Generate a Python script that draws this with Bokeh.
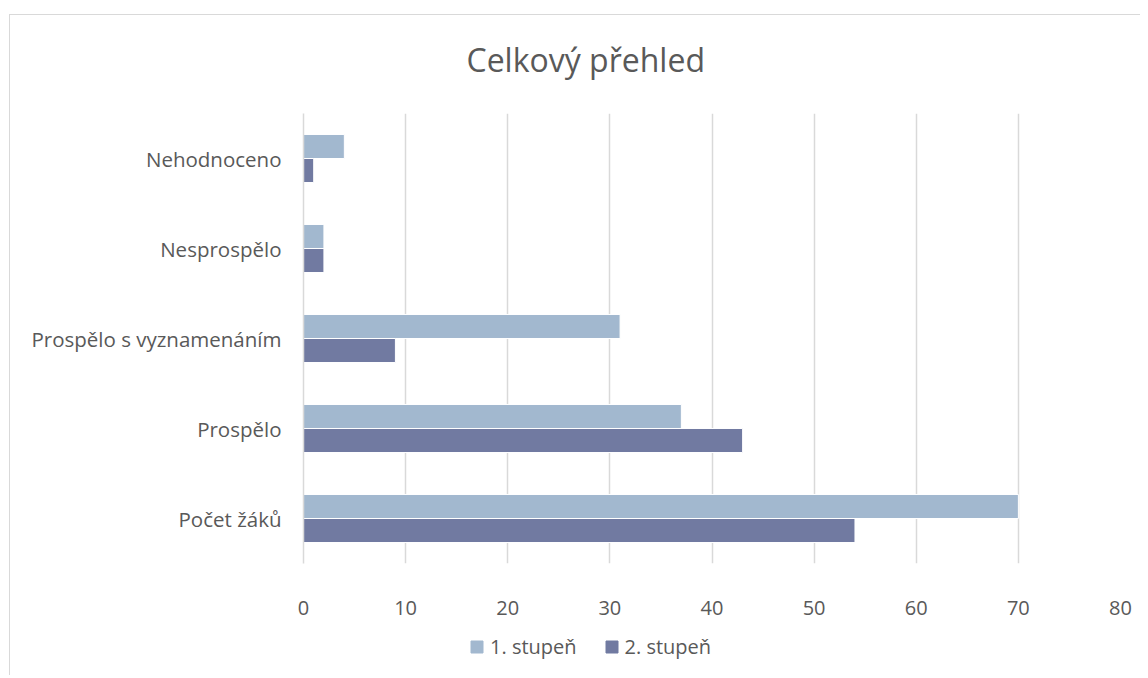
from bokeh.plotting import figure
from bokeh.models import ColumnDataSource, FactorRange, Legend, LegendItem, FixedTicker, Label
from bokeh.layouts import column
from bokeh.transform import dodge
from bokeh.embed import file_html
from bokeh.resources import INLINE

title_text = "Celkový přehled"
categories = ["Počet žáků", "Prospělo", "Prospělo s vyznamenáním", "Nesprospělo", "Nehodnoceno"]
stupen1 = [70, 37, 31, 2, 4]
stupen2 = [54, 43, 9, 2, 1]
series_names = ["1. stupeň", "2. stupeň"]
x_ticks = [0, 10, 20, 30, 40, 50, 60, 70, 80]

FONT = "Open Sans"
TXT = "#595959"
C1 = "#A2B8CF"
C2 = "#717AA1"
W = 293 + 817 + 20

# title strip
p0 = figure(width=W, height=80, x_range=(0, 80), y_range=(0, 80),
            output_backend="svg", toolbar_location=None, min_border=0)
p0.axis.visible = False
p0.grid.visible = False
p0.outline_line_color = None
p0.border_fill_color = "white"
p0.add_layout(Label(x=15.96, y=36, text=title_text, text_font=FONT, text_font_size="32px",
                    text_color=TXT, text_baseline="middle", text_align="left"))

src = ColumnDataSource(dict(cat=categories, s1=stupen1, s2=stupen2))

p = figure(
    frame_width=817, frame_height=450,
    y_range=FactorRange(factors=categories, range_padding=0),
    x_range=(0, 80),
    output_backend="svg", toolbar_location=None,
    min_border_left=293, min_border_right=20, min_border_top=18, min_border_bottom=60,
)

p.outline_line_color = None
p.background_fill_color = "white"
p.border_fill_color = "white"

r1 = p.hbar(y=dodge("cat", 0.1335, range=p.y_range), right="s1", height=0.267, source=src,
            fill_color=C1, line_color="white", line_width=1)
r2 = p.hbar(y=dodge("cat", -0.1335, range=p.y_range), right="s2", height=0.267, source=src,
            fill_color=C2, line_color="white", line_width=1)

p.xgrid.grid_line_color = "#D9D9D9"
p.xgrid.grid_line_width = 1.5
p.ygrid.grid_line_color = None
p.xaxis.ticker = FixedTicker(ticks=x_ticks)

for ax in p.xaxis:
    ax.axis_line_color = None
    ax.major_tick_line_color = None
    ax.minor_tick_line_color = None
    ax.major_label_text_font = FONT
    ax.major_label_text_font_size = "20px"
    ax.major_label_text_color = TXT
    ax.major_label_standoff = 31

for ax in p.yaxis:
    ax.axis_line_color = "#D9D9D9"
    ax.axis_line_width = 1.5
    ax.major_tick_line_color = None
    ax.minor_tick_line_color = None
    ax.major_label_text_font = FONT
    ax.major_label_text_font_size = "20.5px"
    ax.major_label_text_color = TXT
    ax.major_label_standoff = 16

# legend strip below the chart
p2 = figure(width=W, height=52, x_range=(0, 1), y_range=(0, 1),
            output_backend="svg", toolbar_location=None, min_border=0)
p2.axis.visible = False
p2.grid.visible = False
p2.outline_line_color = None
p2.border_fill_color = "white"
hidden = ColumnDataSource(dict(y=[-10.0], right=[1.0]))
l1 = p2.hbar(y="y", right="right", height=0.5, source=hidden, fill_color=C1, line_color=C1)
l2 = p2.hbar(y="y", right="right", height=0.5, source=hidden, fill_color=C2, line_color=C2)

legend = Legend(items=[LegendItem(label=series_names[0], renderers=[l1]),
                       LegendItem(label=series_names[1], renderers=[l2])],
                orientation="horizontal", location=(166, 15),
                label_text_font=FONT, label_text_font_size="20px", label_text_color=TXT,
                glyph_width=15, glyph_height=15, spacing=27, label_standoff=6,
                border_line_color=None, background_fill_alpha=0, margin=0, padding=8)
p2.add_layout(legend, "center")

layout = column(p0, p, p2, spacing=0,
                styles={"border-top": "1px solid #D9D9D9", "border-left": "1px solid #D9D9D9",
                        "margin-left": "9px", "margin-top": "14px"})

open("out.html", "w").write(file_html(layout, INLINE))
